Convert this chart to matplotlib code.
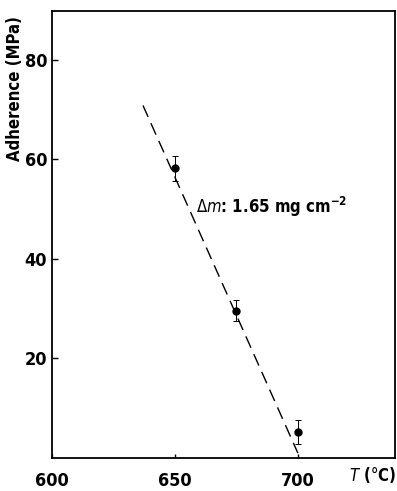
import matplotlib.pyplot as plt

# Adherence vs. oxidation temperature
temps = [650, 675, 700]
adherence = [58.2, 29.6, 5.2]
err = [2.5, 2.1, 2.4]

# Dashed fit line endpoints
fit_t = [637, 700]
fit_a = [70.8, 1.0]

yticks = [20, 40, 60, 80]
xticks = [600, 650, 700]

plt.rcParams['font.family'] = ['DejaVu Sans']
plt.rcParams['font.stretch'] = 'condensed'
plt.rcParams['mathtext.fontset'] = 'dejavusans'

fig = plt.figure(figsize=(3.97, 4.91), dpi=100)
ax = fig.add_axes([0.131, 0.067, 0.864, 0.911])

ax.plot(fit_t, fit_a, color='black', lw=1.0, dashes=(9, 5))
ax.errorbar(temps, adherence, yerr=err, fmt='o', color='black', ms=5,
            elinewidth=0.7, capsize=2.5, capthick=0.7)

ax.set_xlim(600, 739.5)
ax.set_ylim(0, 89.8)
ax.set_xticks(xticks)
ax.set_yticks(yticks)
ax.tick_params(direction='in', length=4, width=1, labelsize=13)
ax.tick_params(axis='x', pad=10, length=3)
for lbl in ax.get_xticklabels() + ax.get_yticklabels():
    lbl.set_fontweight('bold')
for s in ax.spines.values():
    s.set_linewidth(1.3)

ax.text(658.5, 50.5, r'$\Delta m$: 1.65 mg cm$^{\mathbf{-2}}$', fontsize=12,
        fontweight='bold', va='center', ha='left')

fig.text(0.038, 0.82, 'Adherence (MPa)', rotation=90, fontsize=12,
         fontweight='bold', ha='center', va='center')
fig.text(0.997, 0.033, r'$T$ (°C)', fontsize=12, fontweight='bold',
         ha='right', va='center')

fig.savefig('out.png', dpi=100)
